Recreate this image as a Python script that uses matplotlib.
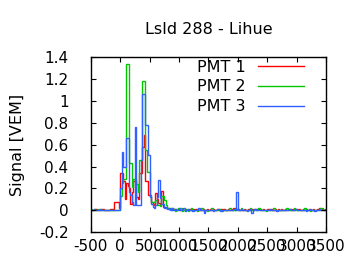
import numpy as np
import matplotlib
matplotlib.use("Agg")
import matplotlib.pyplot as plt
from matplotlib.lines import Line2D

# ---- data (25 ns bins starting at -500 ns) ----
bin_ns = 25
t_start = -500

red_pre = [0, 0, .01, .01, 0, 0, 0, .01, .01, 0, 0, 0, 0, .01, .01, 0, .08, .08, .08, .02]
green_pre = [.01, 0, 0, 0, 0, .01, 0, 0, 0, 0, 0, 0, 0, 0, 0, 0, 0, 0, 0, 0]
blue_pre = [0, 0, .01, 0, 0, 0, .01, 0, 0, 0, 0, 0, 0, 0, 0, 0, 0, 0, 0, 0]

# 0 .. 1000 ns
red_peak = [.34, .34, .27, .10, .25, .22, .20, .06, .17, .27, .27, .12, .10, .34, .34, .58,
            .69, .27, .27, .14, .14, .08, .05, .06, .16, .10, .07, .06, .18, .03,
            .03, .02, .02, .01, .01, .02, .01, .01, 0, .01]
green_peak = [.13, .25, .29, .29, 1.34, 1.34, .43, .43, .21, .29, .29, .24, .17, .46, .46, 1.18,
              1.18, .55, .35, .35, .13, .08, .08, .08, .09, .05, .05, .04, .13, .13,
              .09, .05, .02, .01, .02, 0, .01, -.01, .01, .02]
blue_peak = [.20, .53, .40, .40, .66, .66, .17, .14, .08, .05, .76, .05, .05, .05, .46, 1.06,
             1.06, .78, .78, .51, .12, .06, .03, .02, .05, .12, .28, .11, .06, .06,
             .02, .03, .01, .02, 0, .02, 0, .01, 0, 0]

# 1000 .. 3500 ns
red_tail = [.01, 0, .01, 0, .01, 0, 0, .01, 0, .01, 0, .01, 0, 0, .01, 0, .01, 0, 0, .01,
            0, .01, 0, .01, 0, 0, .01, 0, .01, 0, .01, 0, 0, .01, 0, .01, 0, .02, 0, .01,
            .01, 0, .01, 0, .01, 0, 0, .01, 0, .01, 0, .01, .01, .01, .01, .01, 0, .01, 0, 0,
            .01, 0, .01, 0, 0, .01, 0, .01, 0, .01, 0, 0, .01, 0, .01, .01, 0, .01, 0, .01,
            0, .01, 0, 0, .01, 0, .01, 0, .01, 0, 0, .01, 0, 0, .01, .02, 0, .01, 0, .01]
green_tail = [0, .02, -.01, 0, 0, .01, -.01, 0, .02, 0, 0, 0, -.01, 0, 0, .02, 0, 0, 0, -.01,
              0, 0, .02, 0, 0, 0, 0, .01, 0, -.01, 0, 0, 0, 0, .02, 0, 0, 0, 0, 0,
              0, 0, .02, 0, 0, 0, 0, 0, .02, 0, 0, 0, 0, 0, .02, 0, 0, 0, 0, -.01,
              0, 0, 0, 0, .02, 0, 0, 0, 0, 0, 0, 0, 0, .02, 0, 0, 0, 0, .02, 0,
              0, 0, 0, 0, 0, .02, 0, 0, 0, -.01, 0, 0, 0, 0, 0, 0, .02, .02, 0, 0]
blue_tail = [.02, 0, .01, .02, -.01, 0, .01, 0, 0, -.01, 0, 0, 0, .02, 0, 0, 0, -.02, 0, 0,
             0, 0, 0, -.01, 0, 0, .01, 0, -.01, 0, 0, 0, 0, 0, 0, 0, 0, .01, 0, .17,
             0, 0, .01, 0, 0, 0, -.01, 0, .01, -.02, 0, .01, 0, 0, 0, 0, 0, 0, 0, 0,
             0, .01, 0, 0, 0, 0, -.01, 0, 0, 0, 0, 0, 0, 0, 0, .01, 0, 0, 0, .01,
             0, 0, 0, 0, 0, 0, -.01, 0, 0, .01, 0, 0, -.01, 0, 0, .01, 0, 0, 0, 0]

labels = ["PMT 1", "PMT 2", "PMT 3"]
colors = ["#ff0000", "#00c800", "#3060ff"]
title = "LsId 288 - Lihue"
ylabel = "Signal [VEM]"
xticks = [-500, 0, 500, 1000, 1500, 2000, 2500, 3000, 3500]
yticks = [-0.2, 0, 0.2, 0.4, 0.6, 0.8, 1, 1.2, 1.4]

series = [red_pre + red_peak + red_tail,
          green_pre + green_peak + green_tail,
          blue_pre + blue_peak + blue_tail]

plt.rcParams['font.family'] = ['DejaVu Sans']
fig = plt.figure(figsize=(3.6, 2.7), dpi=100)
ax = fig.add_axes([0.252, 0.140, 0.654, 0.648])

for vals, lab, col in zip(series, labels, colors):
    v = np.array(vals)
    t = t_start + bin_ns * np.arange(len(v) + 1)
    ax.stairs(v, t, color=col, lw=1.0, label=lab, baseline=None)

ax.set_xlim(-500, 3500)
ax.set_ylim(-0.2, 1.4)
ax.set_xticks(xticks)
ax.set_xticklabels([str(x) for x in xticks])
ax.set_yticks(yticks)
ax.set_yticklabels(["%g" % y for y in yticks])
ax.tick_params(direction='in', length=3.5, width=0.8, top=True, right=True,
               labelsize=11, colors='black')
ax.tick_params(axis='x', pad=5)
ax.tick_params(axis='y', pad=16)
for s in ax.spines.values():
    s.set_linewidth(1.0)

ax.set_title(title, fontsize=11.5, pad=17)
ax.set_ylabel(ylabel, fontsize=11.5, labelpad=10)

handles = [Line2D([], [], color=c, lw=1.0) for c in colors]
leg = ax.legend(handles, labels, loc='upper right', bbox_to_anchor=(0.955, 1.05),
                frameon=False, markerfirst=False, handlelength=2.9, handletextpad=0.8,
                fontsize=11.5, labelspacing=0.3, borderaxespad=0.3)

fig.savefig("out.png", dpi=100)
